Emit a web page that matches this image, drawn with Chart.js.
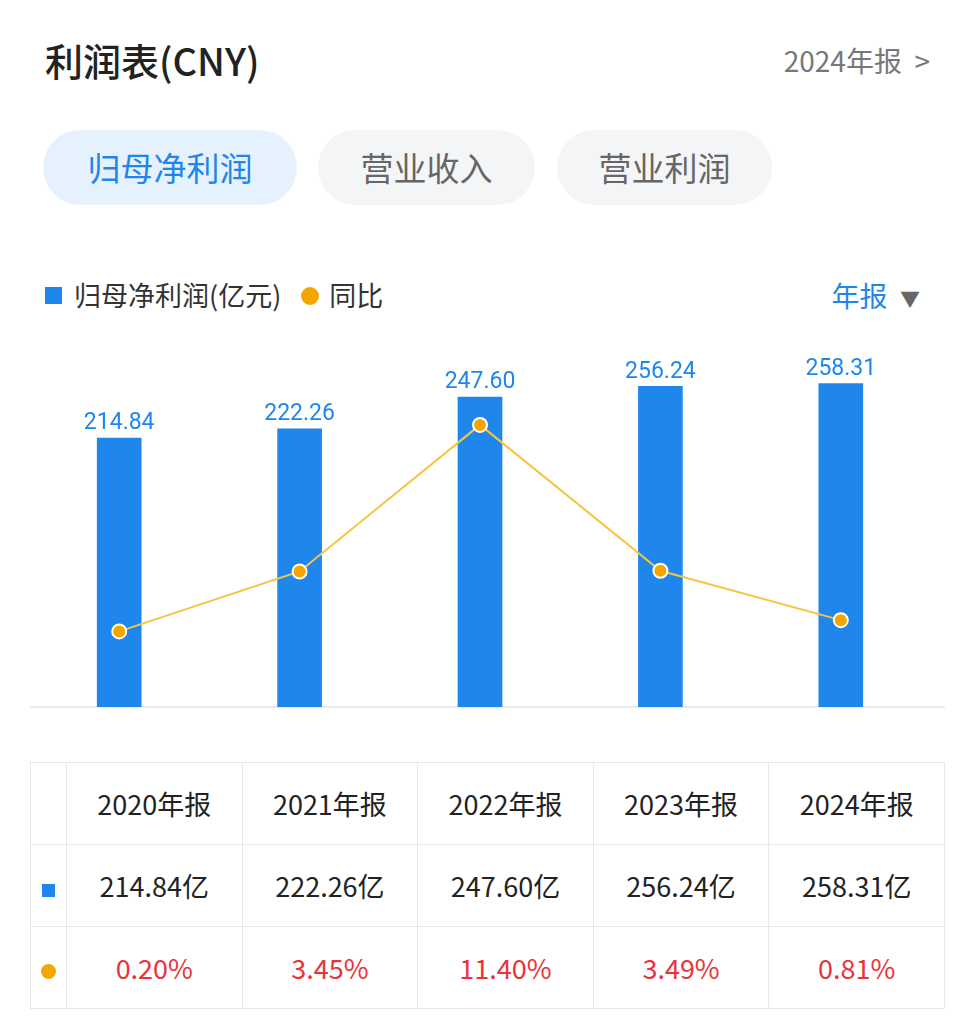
<!DOCTYPE html>
<html><head><meta charset="utf-8">
<script src="https://cdn.jsdelivr.net/npm/chart.js@4.4.0/dist/chart.umd.min.js"></script>
<style>
body{margin:0;width:960px;height:1029px;background:#fff;font-family:"Noto Sans CJK SC","Noto Sans",sans-serif;position:relative;overflow:hidden}
.abs{position:absolute}
#title{left:45px;top:32px;font-size:38px;color:#222;font-weight:500}
#rep{right:30px;top:40px;font-size:28px;color:#777}
.tab{top:130px;height:75px;border-radius:38px;font-size:33px;line-height:75px;text-align:center;background:#f4f5f7;color:#666}
#leg{left:45px;top:275px;font-size:27px;color:#333;line-height:40px}
.sq{display:inline-block;width:17px;height:17px;background:#1f86ec;margin-right:12px;vertical-align:2px}
.dot{display:inline-block;width:18px;height:18px;border-radius:50%;background:#f5a500;margin:0 10px 0 20px;vertical-align:1px}
#yr{right:40px;top:275px;font-size:28px;color:#1f86ec;line-height:40px}
#wrap{left:30px;top:320px;width:915px;height:386px;border-bottom:2px solid #e8eaed}
#cv{position:absolute;left:-10px;top:0}
table{position:absolute;left:30px;top:762px;width:915px;table-layout:fixed;border-collapse:collapse;font-size:27px;color:#222}
td{border:1px solid #e6e8eb;height:79px;text-align:center;font-family:"Noto Sans CJK SC",Roboto,sans-serif}
td.red{color:#e8333a}
</style></head><body>
<div id="title" class="abs">利润表(CNY)</div>
<div id="rep" class="abs">2024年报 &nbsp;&gt;</div>
<div class="abs tab" style="left:43px;width:254px;background:#e5f1fd;color:#1f86ec">归母净利润</div>
<div class="abs tab" style="left:318px;width:217px">营业收入</div>
<div class="abs tab" style="left:557px;width:215px">营业利润</div>
<div id="leg" class="abs"><span class="sq"></span>归母净利润(亿元)<span class="dot"></span>同比</div>
<div id="yr" class="abs">年报 &nbsp;<span style="color:#666;font-size:20px">▼</span></div>
<div id="wrap" class="abs"><canvas id="cv" width="920" height="396"></canvas></div>
<table id="tbl"></table>
<script>
// 数据
const years = ['2020年报', '2021年报', '2022年报', '2023年报', '2024年报'];
const profit = [214.84, 222.26, 247.60, 256.24, 258.31];
const yoy = [0.20, 3.45, 11.40, 3.49, 0.81];

// 柱顶数值标签
const valueLabels = {
    id: 'valueLabels',
    afterDatasetsDraw(chart) {
        const c = chart.ctx;
        const meta = chart.getDatasetMeta(1);
        c.save();
        c.font = '23px Roboto, "DejaVu Sans", sans-serif';
        c.fillStyle = '#1f86ec';
        c.textAlign = 'center';
        c.textBaseline = 'bottom';
        meta.data.forEach((bar, i) => c.fillText(profit[i].toFixed(2), bar.x, bar.y - 3));
        c.restore();
    }
};

new Chart(document.getElementById('cv').getContext('2d'), {
    data: {
        labels: years,
        datasets: [{
            type: 'line', data: yoy, yAxisID: 'y1', order: 0,
            borderColor: '#f5c542', borderWidth: 2, pointRadius: 7,
            pointBackgroundColor: '#f5a500', pointBorderColor: '#fff', pointBorderWidth: 2
        }, {
            type: 'bar', data: profit, yAxisID: 'y', order: 1,
            backgroundColor: '#1f86ec', barThickness: 44
        }]
    },
    options: {
        responsive: false, animation: false,
        layout: { padding: 0 },
        plugins: { legend: { display: false }, tooltip: { enabled: false } },
        scales: {
            x: { display: false },
            y: { display: false, min: 0, max: 302 },
            y1: { display: false, min: -3.9, max: 16.6 }
        }
    },
    plugins: [valueLabels]
});

// 表格
const tbl = document.getElementById('tbl');
let h = '<tr><td style="width:33px"></td>' + years.map(y => `<td>${y}</td>`).join('') + '</tr>';
h += '<tr><td><span style="display:inline-block;width:13px;height:13px;background:#1f86ec"></span></td>' + profit.map(v => `<td>${v.toFixed(2)}亿</td>`).join('') + '</tr>';
h += '<tr><td><span style="display:inline-block;width:15px;height:15px;border-radius:50%;background:#f5a500"></span></td>' + yoy.map(v => `<td class="red">${v.toFixed(2)}%</td>`).join('') + '</tr>';
tbl.innerHTML = h;
</script>
</body></html>
